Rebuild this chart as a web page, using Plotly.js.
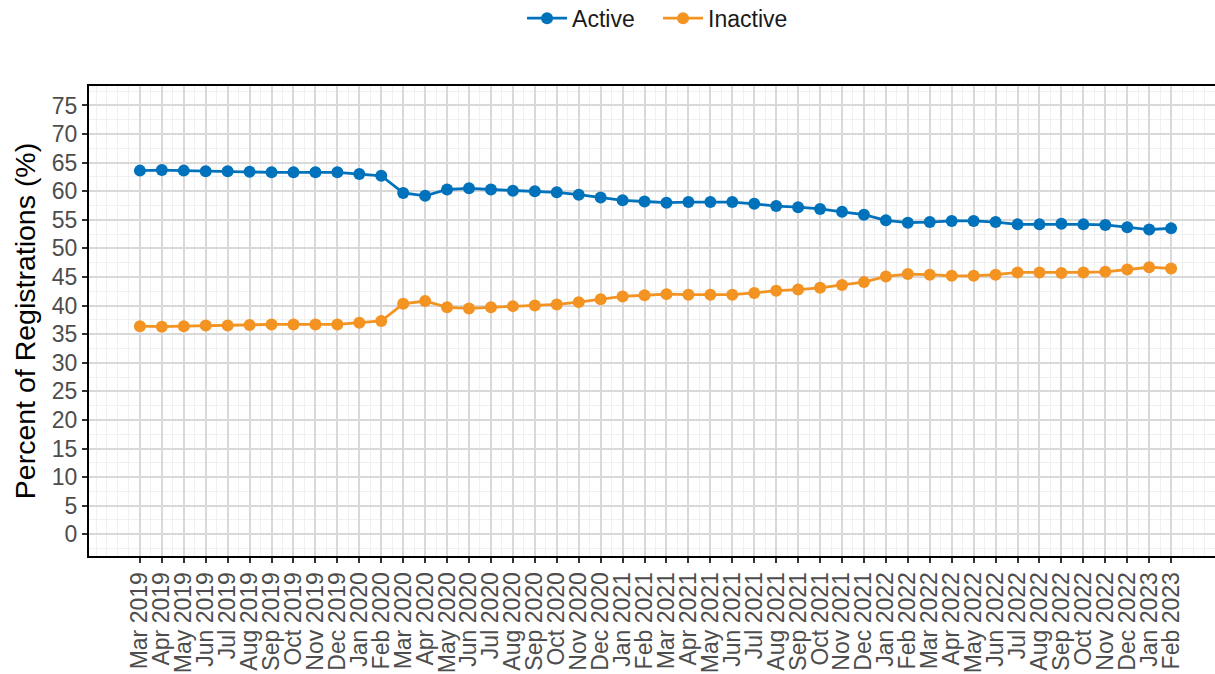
<!DOCTYPE html>
<html>
<head>
<meta charset="utf-8">
<script src="https://cdn.plot.ly/plotly-3.0.1.min.js"></script>
<style>html,body{margin:0;padding:0;background:#fff;}#chart{width:1215px;height:674px;}</style>
</head>
<body>
<div id="chart"></div>
<script>
const months = ["Mar 2019","Apr 2019","May 2019","Jun 2019","Jul 2019","Aug 2019","Sep 2019","Oct 2019","Nov 2019","Dec 2019",
"Jan 2020","Feb 2020","Mar 2020","Apr 2020","May 2020","Jun 2020","Jul 2020","Aug 2020","Sep 2020","Oct 2020","Nov 2020","Dec 2020",
"Jan 2021","Feb 2021","Mar 2021","Apr 2021","May 2021","Jun 2021","Jul 2021","Aug 2021","Sep 2021","Oct 2021","Nov 2021","Dec 2021",
"Jan 2022","Feb 2022","Mar 2022","Apr 2022","May 2022","Jun 2022","Jul 2022","Aug 2022","Sep 2022","Oct 2022","Nov 2022","Dec 2022",
"Jan 2023","Feb 2023"];
const active = [63.6,63.7,63.6,63.5,63.5,63.4,63.3,63.3,63.3,63.3,63.0,62.7,59.7,59.2,60.3,60.5,60.3,60.1,60.0,59.8,59.4,58.9,
58.4,58.2,58.0,58.1,58.1,58.1,57.8,57.4,57.2,56.9,56.4,55.9,54.9,54.5,54.6,54.8,54.8,54.6,54.2,54.2,54.3,54.2,54.1,53.7,53.3,53.5];
const inactive = [36.4,36.3,36.4,36.5,36.5,36.6,36.7,36.7,36.7,36.7,37.0,37.3,40.3,40.8,39.7,39.5,39.7,39.9,40.0,40.2,40.6,41.1,
41.6,41.8,42.0,41.9,41.9,41.9,42.2,42.6,42.8,43.1,43.6,44.1,45.1,45.5,45.4,45.2,45.2,45.4,45.8,45.8,45.7,45.8,45.9,46.3,46.7,46.5];
const yTicks = [0,5,10,15,20,25,30,35,40,45,50,55,60,65,70,75];

const xIdx = months.map((m, i) => i);
const font = "Liberation Sans, Arial, sans-serif";

const traces = [
  {x: xIdx, y: active, name: "Active", type: "scatter", mode: "lines+markers",
   line: {color: "#0072BC", width: 2.8}, marker: {color: "#0072BC", size: 12}},
  {x: xIdx, y: inactive, name: "Inactive", type: "scatter", mode: "lines+markers",
   line: {color: "#F39322", width: 2.8}, marker: {color: "#F39322", size: 12}}
];

const layout = {
  width: 1215, height: 674,
  paper_bgcolor: "#ffffff", plot_bgcolor: "#ffffff",
  margin: {l: 89, r: 0, t: 86, b: 118},
  font: {family: font, color: "#4d4d4d"},
  showlegend: true,
  legend: {orientation: "h", x: 0.5416, xref: "container", xanchor: "center", y: 0.973, yref: "container", yanchor: "middle",
           font: {family: font, size: 23, color: "#1a1a1a"}, itemwidth: 40, entrywidth: 81, traceorder: "normal"},
  xaxis: {
    type: "linear", range: [-2.32, 49.0], tickmode: "array", tickvals: xIdx, ticktext: months,
    tickangle: -90, tickfont: {family: font, size: 23, color: "#4d4d4d"},
    showgrid: true, gridcolor: "#d9d9d9", gridwidth: 2,
    minor: {dtick: 0.5, tick0: 0, showgrid: true, gridcolor: "#f0f0f0", gridwidth: 1, ticks: ""},
    ticks: "outside", ticklen: 5, tickwidth: 2, tickcolor: "#333333",
    showline: true, linecolor: "#000000", linewidth: 2, mirror: true, zeroline: false
  },
  yaxis: {
    range: [-3.8, 78.4], tickmode: "array", tickvals: yTicks,
    tickfont: {family: font, size: 23, color: "#4d4d4d"},
    title: {text: "Percent of Registrations (%)", font: {family: font, size: 28.5, color: "#000000"}, standoff: 8},
    showgrid: true, gridcolor: "#d9d9d9", gridwidth: 2,
    minor: {dtick: 2.5, tick0: 0, showgrid: true, gridcolor: "#f0f0f0", gridwidth: 1, ticks: ""},
    ticks: "outside", ticklen: 5, tickwidth: 2, tickcolor: "#333333",
    showline: true, linecolor: "#000000", linewidth: 2, mirror: true, zeroline: false
  }
};

Plotly.newPlot("chart", traces, layout, {displayModeBar: false, staticPlot: true});
</script>
</body>
</html>
